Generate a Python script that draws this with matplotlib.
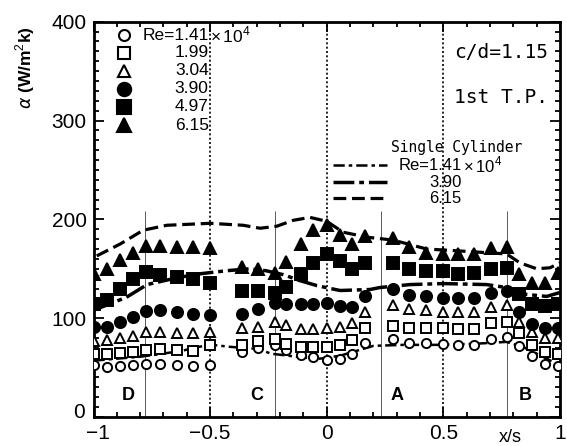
import matplotlib
matplotlib.use("Agg")
import matplotlib.pyplot as plt
from matplotlib.ticker import MultipleLocator
from matplotlib.transforms import ScaledTranslation

plt.rcParams['font.family'] = ['Liberation Sans', 'DejaVu Sans']
plt.rcParams['mathtext.fontset'] = 'custom'
plt.rcParams['mathtext.rm'] = 'Liberation Sans'

# Measurement positions along the tube pitch (x/s)
x_pos = [-1.0, -0.94, -0.886, -0.832, -0.777, -0.713, -0.643, -0.572, -0.5,
         -0.362, -0.294, -0.222, -0.174, -0.111, -0.061, 0.0, 0.057, 0.107, 0.166,
         0.285, 0.352, 0.426, 0.5, 0.564, 0.633, 0.705, 0.773,
         0.825, 0.882, 0.935, 0.99]

# Local heat transfer coefficient alpha (W/m^2K) for each Reynolds number (x10^4)
re_values = ["1.41", "1.99", "3.04", "3.90", "4.97", "6.15"]
alpha_141 = [53, 51, 52, 53, 54, 54, 53, 52, 53, 66, 70, 73, 68, 63, 61, 58, 59, 64, 75,
             79, 75, 75, 74, 73, 73, 79, 81, 72, 62, 54, 52]
alpha_199 = [64, 64, 65, 66, 68, 69, 68, 67, 73, 73, 77, 79, 74, 71, 71, 71, 73, 78, 90,
             92, 90, 90, 90, 89, 89, 95, 96, 85, 73, 66, 64]
alpha_304 = [77, 78, 80, 82, 86, 86, 85, 85, 86, 90, 91, 96, 93, 89, 89, 90, 91, 95, 106,
             113, 109, 108, 106, 106, 106, 111, 113, 96, 86, 80, 80]
alpha_390 = [91, 91, 96, 101, 107, 108, 106, 104, 103, 104, 109, 115, 114, 114, 114, 115,
             112, 111, 122, 130, 123, 122, 120, 120, 120, 125, 127, 106, 94, 90, 90]
alpha_497 = [114, 118, 130, 140, 147, 144, 142, 140, 136, 127, 128, 125, 132, 145, 156, 165,
             158, 150, 156, 156, 150, 148, 148, 145, 146, 150, 151, 124, 114, 112, 114]
alpha_615 = [145, 150, 159, 166, 173, 173, 172, 172, 171, 152, 150, 146, 157, 175, 189, 194,
             184, 175, 183, 181, 172, 166, 165, 165, 165, 171, 172, 145, 136, 136, 146]

# Single cylinder reference curves
sc_x_141 = [-1.0, -0.9, -0.8, -0.735, -0.62, -0.55, -0.49, -0.415, -0.3, -0.236, -0.165,
            -0.093, -0.03, 0.057, 0.114, 0.2, 0.33, 0.47, 0.63, 0.77, 0.84, 0.91, 0.985]
sc_y_141 = [57, 59, 61, 63, 67, 71, 73, 71, 69, 64, 62, 60, 59, 62, 66, 72, 73, 73, 74, 76,
            71, 63, 54]
sc_x_390 = [-1.0, -0.86, -0.77, -0.64, -0.54, -0.43, -0.33, -0.26, -0.186, -0.115, -0.043,
            0.057, 0.185, 0.228, 0.357, 0.5, 0.685, 0.771, 0.857, 0.943, 1.0]
sc_y_390 = [108, 121, 134, 141, 145, 148, 150, 148, 144, 138, 133, 128, 129, 131, 134, 135,
            134, 131, 124, 122, 126]
sc_x_615 = [-0.986, -0.886, -0.787, -0.686, -0.5, -0.358, -0.286, -0.215, -0.144, -0.072,
            0.0, 0.07, 0.171, 0.285, 0.428, 0.571, 0.771, 0.828, 0.9, 0.957, 1.0]
sc_y_615 = [163, 175, 189, 194, 196, 194, 191, 193, 199, 202, 198, 187, 182, 179, 170, 168,
            165, 156, 150, 151, 156]

# Rod positions and region labels
rod_x = [-0.78, -0.222, 0.231, 0.771]
region_x = [-0.85, -0.30, 0.30, 0.85]
region_names = ["D", "C", "A", "B"]

W, H = 567, 446
fig = plt.figure(figsize=(W / 100, H / 100), dpi=100)
ax = fig.add_axes([93.5 / W, 1 - 417 / H, 466.5 / W, 395.3 / H])
ax.set_xlim(-1, 1)
ax.set_ylim(0, 400)

# guide lines
for xv in [-0.5, 0.0, 0.5]:
    ax.axvline(xv, color='black', lw=1.2, ls=(0, (1.2, 1.4)), zorder=1)
ax.vlines(rod_x, 0, 208, color='0.35', lw=0.7, zorder=1)

# single cylinder curves
sc_styles = [
    (sc_x_141, sc_y_141, (0, (4.5, 1.6, 1.4, 1.6)), 1.8),
    (sc_x_390, sc_y_390, (0, (6, 1.4, 1.4, 1.4)), 2.5),
    (sc_x_615, sc_y_615, (0, (4, 1.8)), 2.3),
]
for xs, ys, ls, lw in sc_styles:
    ax.plot(xs, ys, color='black', ls=ls, lw=lw, zorder=2)

# measured series
series = [
    (alpha_141, 'o', 'white', 6.6),
    (alpha_199, 's', 'white', 6.8),
    (alpha_304, '^', 'white', 7.4),
    (alpha_390, 'o', 'black', 8.0),
    (alpha_497, 's', 'black', 8.4),
    (alpha_615, '^', 'black', 8.8),
]
for ys, mk, fc, ms in series:
    ax.plot(x_pos, ys, ls='none', marker=mk, mfc=fc, mec='black', mew=1.4, ms=ms,
            zorder=3)

# symbol key (top left)
key_rows = [0.966, 0.921, 0.876, 0.830, 0.785, 0.738]
for (ys, mk, fc, ms), yr, rv in zip(series, key_rows, re_values):
    ax.plot([0.066], [yr], transform=ax.transAxes, marker=mk, mfc=fc, mec='black',
            mew=1.5, ms=ms * 1.2, ls='none', clip_on=False)
    label = ("Re=" + rv) if rv == "1.41" else rv
    ax.text(0.247, yr, label, transform=ax.transAxes, ha='right', va='center',
            fontsize=12.5)
ax.text(0.249, key_rows[0], r"$\times\,10^4$", transform=ax.transAxes, ha='left',
        va='center', fontsize=12.5)

# single cylinder key
ax.text(0.638, 0.683, "Single Cylinder", transform=ax.transAxes, ha='left',
        va='center', fontsize=10.5, family='DejaVu Sans Mono')
sc_rows = [0.637, 0.594, 0.554]
for (xs, ys, ls, lw), yr, rv in zip(sc_styles, sc_rows, ["1.41", "3.90", "6.15"]):
    ax.plot([0.513, 0.629], [yr, yr], transform=ax.transAxes, color='black', ls=ls,
            lw=lw)
    label = ("Re=" + rv) if rv == "1.41" else rv
    ax.text(0.789, yr, label, transform=ax.transAxes, ha='right', va='center',
            fontsize=12)
ax.text(0.791, sc_rows[0], r"$\times\,10^4$", transform=ax.transAxes, ha='left',
        va='center', fontsize=12)

ax.text(0.975, 0.922, "c/d=1.15", transform=ax.transAxes, ha='right', va='center',
        fontsize=14, family='DejaVu Sans Mono')
ax.text(0.975, 0.808, "1st T.P.", transform=ax.transAxes, ha='right', va='center',
        fontsize=14, family='DejaVu Sans Mono')

for xr, nm in zip(region_x, region_names):
    ax.text(xr, 22, nm, ha='center', va='center', fontsize=13, fontweight='bold')

# axes styling
for sp in ax.spines.values():
    sp.set_linewidth(2.0)
ax.xaxis.set_major_locator(MultipleLocator(0.5))
ax.xaxis.set_minor_locator(MultipleLocator(0.1))
ax.yaxis.set_major_locator(MultipleLocator(100))
ax.yaxis.set_minor_locator(MultipleLocator(10))
ax.tick_params(which='both', direction='in', top=True, right=True, width=1.3)
ax.tick_params(which='major', length=7, labelsize=15, pad=5)
ax.tick_params(which='minor', length=3.5)
ax.set_xticks([-1, -0.5, 0, 0.5, 1])
ax.set_xticklabels(["\u22121", "\u22120.5", "0", "0.5", "1"])
ax.set_yticks([0, 100, 200, 300, 400])
ax.set_yticklabels(["0", "100", "200", "300", "400"])

# lift the "0" label slightly so it clears the x labels
zero_lbl = ax.get_yticklabels()[0]
zero_lbl.set_transform(zero_lbl.get_transform()
                       + ScaledTranslation(-1 / 72, 5 / 72, fig.dpi_scale_trans))
minus_one = ax.get_xticklabels()[0]
minus_one.set_transform(minus_one.get_transform()
                        + ScaledTranslation(3 / 72, 0, fig.dpi_scale_trans))

ax.text(0.893, -0.052, "x/s", transform=ax.transAxes, ha='center', va='center',
        fontsize=13)
fig.text(25 / W, 1 - 68 / H, r"$\alpha$ (W/m$^2$k)", rotation=90, ha='center',
         va='center', fontsize=12.5, fontweight='bold')

fig.savefig("out.png", dpi=100)
